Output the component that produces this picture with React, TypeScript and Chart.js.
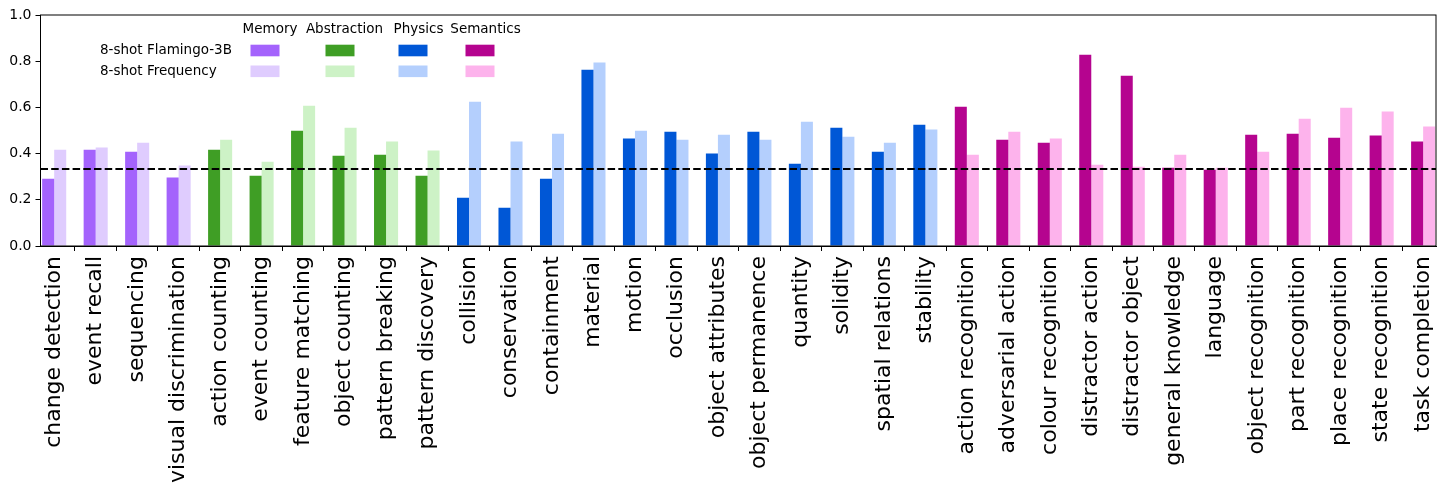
import { useEffect, useRef } from 'react';
import { Chart, registerables } from 'chart.js';

Chart.register(...registerables);

const categories = [
  'change detection', 'event recall', 'sequencing', 'visual discrimination',
  'action counting', 'event counting', 'feature matching', 'object counting', 'pattern breaking', 'pattern discovery',
  'collision', 'conservation', 'containment', 'material', 'motion', 'occlusion', 'object attributes',
  'object permanence', 'quantity', 'solidity', 'spatial relations', 'stability',
  'action recognition', 'adversarial action', 'colour recognition', 'distractor action', 'distractor object',
  'general knowledge', 'language', 'object recognition', 'part recognition', 'place recognition',
  'state recognition', 'task completion',
];

const groups = ['Memory', 'Abstraction', 'Physics', 'Semantics'];
// group index of each category
const categoryGroup = [
  0, 0, 0, 0,
  1, 1, 1, 1, 1, 1,
  2, 2, 2, 2, 2, 2, 2, 2, 2, 2, 2, 2,
  3, 3, 3, 3, 3, 3, 3, 3, 3, 3, 3, 3,
];

const flamingo = [
  0.291, 0.417, 0.408, 0.296,
  0.417, 0.304, 0.499, 0.391, 0.395, 0.304,
  0.209, 0.166, 0.291, 0.763, 0.465, 0.495, 0.400, 0.495, 0.356, 0.512, 0.408, 0.525,
  0.603, 0.460, 0.447, 0.828, 0.737, 0.339, 0.330, 0.482, 0.486, 0.469, 0.478, 0.452,
];

const frequency = [
  0.417, 0.426, 0.447, 0.348,
  0.460, 0.365, 0.607, 0.512, 0.452, 0.413,
  0.625, 0.452, 0.486, 0.794, 0.499, 0.460, 0.482, 0.460, 0.538, 0.473, 0.447, 0.504,
  0.395, 0.495, 0.465, 0.352, 0.343, 0.395, 0.339, 0.408, 0.551, 0.599, 0.582, 0.517,
];

const seriesNames = ['8-shot Flamingo-3B', '8-shot Frequency'];
const darkColors = ['#a463fc', '#3f9e25', '#0057d6', '#b5048f'];
const lightColors = ['#dfccfe', '#cdf2c6', '#b4cffd', '#fdb3ec'];

const chanceLevel = 1 / 3;
const yTicks = [0, 0.2, 0.4, 0.6, 0.8, 1.0];

const FONT = '"DejaVu Sans", sans-serif';

const framePlugin = {
  id: 'frameAndExtras',
  afterDatasetsDraw(chart: any) {
    const { ctx, chartArea, scales } = chart;
    const y = scales.y.getPixelForValue(chanceLevel);
    ctx.save();
    ctx.strokeStyle = '#000';
    ctx.lineWidth = 2;
    ctx.setLineDash([7.5, 3.2]);
    ctx.beginPath();
    ctx.moveTo(chartArea.left, y);
    ctx.lineTo(chartArea.right, y);
    ctx.stroke();
    ctx.restore();
  },
  afterDraw(chart: any) {
    const { ctx, chartArea } = chart;
    ctx.save();
    ctx.strokeStyle = '#000';
    ctx.lineWidth = 1;
    ctx.strokeRect(chartArea.left, chartArea.top, chartArea.right - chartArea.left, chartArea.bottom - chartArea.top);

    // table-style legend: group headers across, series down
    const colCenters = [265, 340, 413, 480];
    const headerCenters = [270, 344.5, 418.5, 485.5];
    const rowCenters = [50.5, 71.3];
    ctx.font = `13.5px ${FONT}`;
    ctx.fillStyle = '#000';
    ctx.textBaseline = 'middle';
    ctx.textAlign = 'center';
    groups.forEach((g, i) => ctx.fillText(g, headerCenters[i], 29));
    ctx.textAlign = 'left';
    seriesNames.forEach((s, r) => ctx.fillText(s, 100, rowCenters[r]));
    groups.forEach((_, i) => {
      ctx.fillStyle = darkColors[i];
      ctx.fillRect(colCenters[i] - 14.5, rowCenters[0] - 5.8, 29, 11.6);
      ctx.fillStyle = lightColors[i];
      ctx.fillRect(colCenters[i] - 14.5, rowCenters[1] - 5.8, 29, 11.6);
    });
    ctx.restore();
  },
};

export default function App() {
  const chartRef = useRef<HTMLCanvasElement>(null);
  const chartInstance = useRef<Chart | null>(null);

  useEffect(() => {
    document.body.style.margin = '0';
    if (!chartRef.current) return;
    if (chartInstance.current) chartInstance.current.destroy();
    const ctx = chartRef.current.getContext('2d');
    if (!ctx) return;

    chartInstance.current = new Chart(ctx, {
      type: 'bar',
      data: {
        datasets: [
          {
            label: seriesNames[0],
            data: flamingo.map((v, i) => ({ x: i, y: v })),
            backgroundColor: categoryGroup.map((g) => darkColors[g]),
            borderWidth: 0,
          },
          {
            label: seriesNames[1],
            data: frequency.map((v, i) => ({ x: i, y: v })),
            backgroundColor: categoryGroup.map((g) => lightColors[g]),
            borderWidth: 0,
          },
        ],
      },
      options: {
        responsive: true,
        maintainAspectRatio: false,
        animation: false,
        layout: { padding: { top: 15, right: 10, left: 0, bottom: 0 } },
        datasets: { bar: { categoryPercentage: 0.58, barPercentage: 1.0 } },
        plugins: {
          legend: { display: false },
          tooltip: { enabled: false },
        },
        scales: {
          x: {
            type: 'linear',
            min: -0.33,
            max: categories.length - 1 + 0.31,
            offset: false,
            afterBuildTicks: (scale: any) => {
              scale.ticks = categories.map((_, i) => ({ value: i }));
            },
            afterFit: (scale: any) => {
              scale.height = 250;
              scale.paddingLeft = 0;
              scale.paddingRight = 0;
            },
            ticks: {
              autoSkip: false,
              minRotation: 90,
              maxRotation: 90,
              padding: 5,
              color: '#000',
              font: { family: FONT, size: 22 },
              callback: (value: any) => categories[value as number] ?? '',
            },
            grid: { drawOnChartArea: false, drawTicks: true, tickLength: 5, color: '#000', lineWidth: 1 },
            border: { display: true, color: '#000', width: 1 },
          },
          y: {
            min: 0,
            max: 1,
            afterBuildTicks: (scale: any) => {
              scale.ticks = yTicks.map((v) => ({ value: v }));
            },
            afterFit: (scale: any) => {
              scale.width = 40.5;
              scale.paddingTop = 0;
              scale.paddingBottom = 0;
            },
            ticks: {
              padding: 4,
              color: '#000',
              font: { family: FONT, size: 14 },
              callback: (value: any) => Number(value).toFixed(1),
            },
            grid: { drawOnChartArea: false, drawTicks: true, tickLength: 5, color: '#000', lineWidth: 1 },
            border: { display: true, color: '#000', width: 1 },
          },
        },
      },
      plugins: [framePlugin],
    });

    return () => {
      if (chartInstance.current) {
        chartInstance.current.destroy();
        chartInstance.current = null;
      }
    };
  }, []);

  return (
    <div style={{ width: 1446, height: 496, position: 'relative' }}>
      <canvas ref={chartRef} />
    </div>
  );
}
